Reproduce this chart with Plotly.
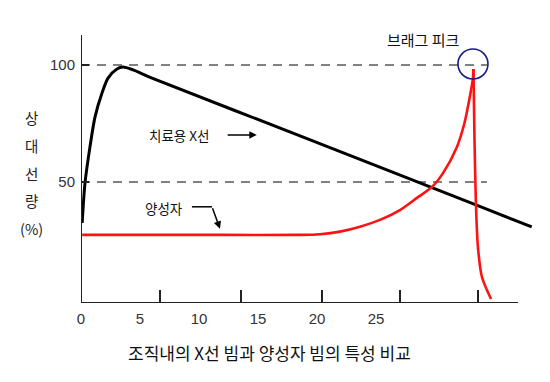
import plotly.graph_objects as go

# ---- data ----
# X-ray (치료용 X선) relative dose vs depth
xray_depth = [0.1, 0.34, 0.76, 1.19, 1.78, 2.29, 3.05, 3.56, 4.41, 6.02, 18.56, 33.47, 38.2]
xray_dose = [32.5, 49.6, 65.0, 77.8, 88.0, 94.4, 98.3, 99.1, 97.9, 94.4, 69.7, 40.2, 30.8]

# Proton (양성자) relative dose vs depth: plateau + rise to the Bragg peak
proton_rise_depth = [0.1, 6.0, 12.0, 18.56, 20.25, 21.95, 23.64, 25.34, 27.03, 28.47,
                     29.75, 30.68, 31.86, 32.5, 32.9, 33.2, 33.26]
proton_rise_dose = [27.4, 27.4, 27.4, 27.4, 27.7, 28.8, 30.9, 33.8, 38.0, 43.2,
                    47.9, 53.8, 65.0, 75.2, 85.0, 93.6, 98.3]
# distal fall-off after the Bragg peak
proton_fall_depth = [33.26, 33.35, 33.47, 33.64, 33.98, 34.75]
proton_fall_dose = [98.3, 68.0, 40.6, 22.2, 9.4, 0.0]

x_tick_labels = [0, 5, 10, 15, 20, 25]
x_tick_marks = [6.69, 13.56, 20.42, 27.03, 33.64]
y_tick_labels = [50, 100]
ref_levels = [100, 50]

bragg_peak = (33.22, 100.4)

x_axis_end = 37.03
ref_line_end = 34.4

TXT = "Noto Sans CJK KR, sans-serif"
NUM = "Liberation Sans Narrow, Liberation Sans, Noto Sans CJK KR, sans-serif"
XR = [0, 38.9]
YR = [-1.7, 112.8]

fig = go.Figure()

fig.add_trace(go.Scatter(x=xray_depth, y=xray_dose, mode="lines",
                         line=dict(color="#000000", width=3, shape="spline", smoothing=0.8),
                         showlegend=False, hoverinfo="skip"))
fig.add_trace(go.Scatter(x=proton_rise_depth, y=proton_rise_dose, mode="lines",
                         line=dict(color="#ff1111", width=2.6, shape="spline", smoothing=0.8),
                         showlegend=False, hoverinfo="skip"))
fig.add_trace(go.Scatter(x=proton_fall_depth, y=proton_fall_dose, mode="lines",
                         line=dict(color="#ff1111", width=2.6, shape="spline", smoothing=0.8),
                         showlegend=False, hoverinfo="skip"))

shapes = []
# dashed reference lines
for lv in ref_levels:
    shapes.append(dict(type="line", xref="x", yref="y", x0=0, x1=ref_line_end, y0=lv, y1=lv,
                       line=dict(color="#808080", width=2, dash="9px,7px"), layer="below"))
# axis lines
shapes.append(dict(type="line", xref="x", yref="y", x0=0, x1=0, y0=YR[0], y1=YR[1],
                   line=dict(color="#222222", width=2)))
shapes.append(dict(type="line", xref="x", yref="y", x0=0, x1=x_axis_end, y0=YR[0], y1=YR[0],
                   line=dict(color="#222222", width=2)))
# Bragg peak circle
shapes.append(dict(type="circle", xref="x", yref="y",
                   x0=bragg_peak[0] - 1.27, x1=bragg_peak[0] + 1.27,
                   y0=bragg_peak[1] - 6.4, y1=bragg_peak[1] + 6.4,
                   line=dict(color="#1a1a8a", width=1.6)))
# bent pointer for 양성자 (horizontal part)
shapes.append(dict(type="line", xref="x", yref="y", x0=9.4, x1=11.1, y0=39.4, y1=39.4,
                   line=dict(color="#000000", width=1.5)))

annotations = [
    dict(x=28.98, y=110.7, xref="x", yref="y", text="브래그 피크", showarrow=False,
         font=dict(family=TXT, size=15, color="#111")),
    dict(x=8.3, y=70.1, xref="x", yref="y", text="치료용 X선", showarrow=False,
         font=dict(family=TXT, size=13.5, color="#111")),
    dict(x=14.9, y=70.1, ax=12.3, ay=70.1, xref="x", yref="y", axref="x", ayref="y",
         text="", showarrow=True, arrowhead=2, arrowsize=1, arrowwidth=1.5, arrowcolor="#000"),
    dict(x=7.03, y=38.9, xref="x", yref="y", text="양성자", showarrow=False,
         font=dict(family=TXT, size=13.5, color="#111")),
    dict(x=11.78, y=30.0, ax=11.1, ay=39.4, xref="x", yref="y", axref="x", ayref="y",
         text="", showarrow=True, arrowhead=2, arrowsize=1, arrowwidth=1.5, arrowcolor="#000"),
    dict(x=0.41, y=-0.185, xref="paper", yref="paper", xanchor="center", yanchor="middle",
         text="조직내의 X선 빔과 양성자 빔의 특성 비교", showarrow=False,
         font=dict(family=TXT, size=17, color="#111")),
]
ytitle_chars = ["상", "대", "선", "량", "(%)"]
ytitle_y = [77.4, 65.8, 53.8, 42.3, 30.3]
for ch, yy in zip(ytitle_chars, ytitle_y):
    annotations.append(dict(x=-0.107, y=yy, xref="paper", yref="y", xanchor="center",
                            yanchor="middle", text=ch, showarrow=False,
                            font=dict(family=TXT, size=14.5, color="#222")))

fig.update_layout(
    width=550, height=382,
    margin=dict(l=81, r=10, t=35, b=79),
    paper_bgcolor="white", plot_bgcolor="white",
    shapes=shapes, annotations=annotations,
    xaxis=dict(range=XR, showgrid=False, zeroline=False, showline=False,
               tickvals=x_tick_labels, ticktext=[str(v) for v in x_tick_labels],
               ticks="", ticklabelstandoff=5,
               tickfont=dict(family=NUM, size=15, color="#333")),
    xaxis2=dict(range=XR, overlaying="x", side="bottom", showgrid=False, zeroline=False,
                showline=False, tickvals=x_tick_marks, showticklabels=False,
                ticks="inside", ticklen=13, tickwidth=2, tickcolor="#222"),
    yaxis=dict(range=YR, showgrid=False, zeroline=False, showline=False,
               tickvals=y_tick_labels, ticktext=[str(v) for v in y_tick_labels],
               ticks="inside", ticklen=8, tickwidth=2, tickcolor="#222",
               ticklabelstandoff=5,
               tickfont=dict(family=NUM, size=15, color="#333")),
)
# dummy invisible trace so xaxis2 is rendered
fig.add_trace(go.Scatter(x=[XR[0]], y=[YR[0]], xaxis="x2", mode="markers",
                         marker=dict(opacity=0), showlegend=False, hoverinfo="skip"))

fig.write_html("out.html", config={"displayModeBar": False},
               post_script="document.body.style.margin='0';document.body.style.padding='0';")
